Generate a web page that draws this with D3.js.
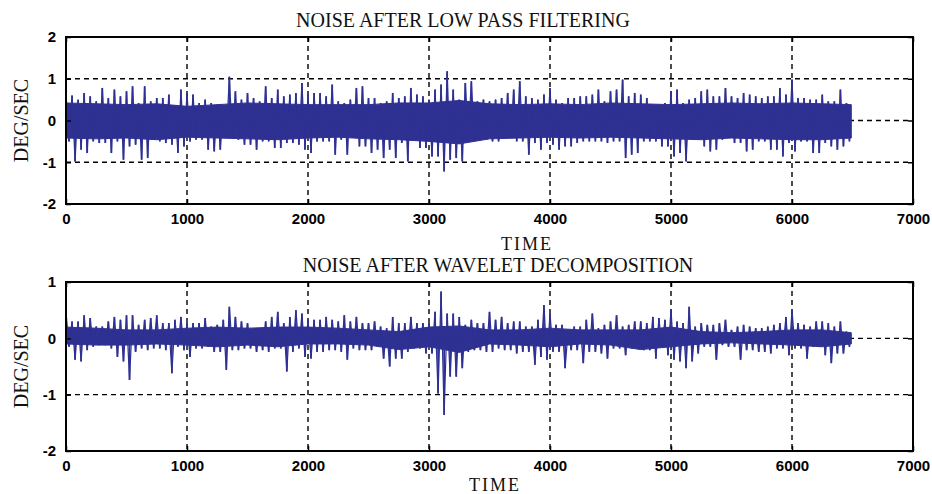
<!DOCTYPE html>
<meta charset="utf-8">
<style>
body { margin: 0; background: #fff; }
.tick-label { font-family: "Liberation Sans", Arial, sans-serif; font-weight: bold; font-size: 15px; fill: #000; }
.title, .xlabel, .ylabel { font-family: "Liberation Serif", "Times New Roman", serif; fill: #111; }
.grid line { stroke: #000; stroke-width: 1.4px; stroke-dasharray: 5,4; }
.frame { fill: none; stroke: #000; stroke-width: 2px; }
.core { fill: #2e3192; stroke: #2e3192; stroke-width: 1px; }
.trace { fill: none; stroke: #2e3192; stroke-width: 1.2px; }
.spikes line { stroke: #2e3192; stroke-width: 1.8px; }
</style>
<svg width="932" height="494"></svg>

<script src="https://cdn.jsdelivr.net/npm/d3@7"></script>
<script>

// peak values of the noise, one pair per 50 time units (high sample, then low sample)
var lowPassHi = [0.66,0.6,0.5,0.66,0.58,0.46,0.78,0.54,0.74,0.58,0.7,0.82,0.42,0.82,0.46,0.54,0.54,0.62,0.34,0.74,
  0.66,0.62,0.42,0.5,0.42,0.38,0.3,1.05,0.7,0.5,0.66,0.54,0.46,0.82,0.54,0.74,0.58,0.62,0.66,0.9,
  0.62,0.66,0.66,0.58,0.86,0.46,0.42,0.5,0.78,0.82,0.54,0.54,0.42,0.46,0.66,0.54,0.58,0.78,0.62,0.58,
  0.5,0.74,0.86,1.18,0.74,0.5,0.9,0.94,0.46,0.5,0.46,0.5,0.54,0.66,0.74,0.94,0.58,0.54,0.5,0.62,
  0.78,0.5,0.42,0.54,0.54,0.58,0.58,0.62,0.74,0.46,0.7,0.74,0.98,0.58,0.66,0.62,0.54,0.38,0.38,0.42,
  0.7,0.74,0.42,0.5,0.54,0.7,0.74,0.58,0.58,0.78,0.58,0.54,0.66,0.62,0.58,0.54,0.58,0.58,0.78,0.62,
  0.98,0.54,0.54,0.5,0.5,0.62,0.46,0.46,0.74,0.42];
var lowPassLo = [-0.5,-0.98,-0.7,-0.78,-0.5,-0.54,-0.54,-0.78,-0.5,-0.94,-0.62,-0.58,-0.94,-0.9,-0.46,-0.5,-0.54,-0.58,-0.78,-0.62,
  -0.5,-0.46,-0.46,-0.7,-0.74,-0.7,-0.38,-0.42,-0.46,-0.58,-0.58,-0.7,-0.5,-0.5,-0.66,-0.66,-0.54,-0.54,-0.58,-0.7,
  -0.78,-0.5,-0.5,-0.5,-0.82,-0.46,-0.82,-0.38,-0.62,-0.62,-0.78,-0.7,-0.9,-0.7,-0.9,-0.54,-0.98,-0.46,-0.66,-0.66,
  -0.86,-0.86,-1.22,-0.94,-0.9,-0.98,-0.38,-0.42,-0.46,-0.46,-0.5,-0.5,-0.42,-0.42,-0.5,-0.5,-0.82,-0.54,-0.7,-0.54,
  -0.58,-0.7,-0.62,-0.62,-0.54,-0.5,-0.5,-0.5,-0.5,-0.54,-0.5,-0.5,-0.9,-0.82,-0.78,-0.5,-0.5,-0.5,-0.62,-0.62,
  -0.86,-0.78,-0.98,-0.46,-0.46,-0.62,-0.74,-0.7,-0.46,-0.38,-0.54,-0.54,-0.74,-0.7,-0.5,-0.5,-0.7,-0.7,-0.86,-0.54,
  -0.74,-0.5,-0.5,-0.78,-0.78,-0.54,-0.62,-0.7,-0.62,-0.5];
// dense core of the band, one pair per 250 time units
var lowPassCoreHi = [0.42,0.4,0.38,0.4,0.34,0.38,0.42,0.4,0.38,0.38,0.38,0.42,0.42,0.48,0.4,0.38,0.4,0.38,0.42,0.4,0.38,0.4,0.42,0.4,0.42,0.4,0.38];
var lowPassCoreLo = [-0.42,-0.44,-0.42,-0.46,-0.4,-0.42,-0.44,-0.46,-0.42,-0.4,-0.44,-0.46,-0.5,-0.56,-0.44,-0.42,-0.4,-0.42,-0.4,-0.42,-0.44,-0.46,-0.42,-0.44,-0.46,-0.46,-0.42];

var waveletHi = [0.47,0.3,0.3,0.41,0.36,0.21,0.21,0.3,0.38,0.33,0.41,0.41,0.24,0.33,0.36,0.41,0.27,0.27,0.33,0.38,
  0.27,0.27,0.27,0.36,0.21,0.24,0.33,0.56,0.38,0.3,0.27,0.15,0.18,0.3,0.38,0.47,0.27,0.38,0.5,0.44,
  0.33,0.33,0.33,0.38,0.33,0.3,0.41,0.3,0.38,0.27,0.27,0.3,0.21,0.18,0.38,0.27,0.27,0.38,0.27,0.27,
  0.27,0.47,0.83,0.44,0.44,0.38,0.24,0.33,0.27,0.27,0.47,0.33,0.38,0.27,0.3,0.3,0.21,0.21,0.33,0.59,
  0.44,0.24,0.24,0.15,0.21,0.21,0.33,0.44,0.18,0.24,0.3,0.41,0.21,0.24,0.3,0.3,0.27,0.38,0.36,0.33,
  0.51,0.3,0.27,0.56,0.21,0.27,0.24,0.24,0.27,0.33,0.15,0.21,0.24,0.21,0.18,0.18,0.21,0.24,0.27,0.38,
  0.5,0.27,0.24,0.21,0.3,0.3,0.27,0.21,0.3,0.12];
var waveletLo = [-0.15,-0.38,-0.41,-0.21,-0.15,-0.12,-0.12,-0.18,-0.33,-0.41,-0.74,-0.24,-0.18,-0.21,-0.18,-0.18,-0.21,-0.62,-0.15,-0.21,
  -0.33,-0.18,-0.18,-0.15,-0.24,-0.24,-0.56,-0.21,-0.21,-0.18,-0.18,-0.24,-0.21,-0.24,-0.18,-0.18,-0.59,-0.24,-0.18,-0.33,
  -0.36,-0.24,-0.24,-0.21,-0.21,-0.24,-0.38,-0.18,-0.21,-0.21,-0.21,-0.15,-0.36,-0.5,-0.36,-0.36,-0.24,-0.18,-0.18,-0.27,
  -0.27,-0.98,-1.36,-0.68,-0.68,-0.53,-0.24,-0.21,-0.21,-0.24,-0.24,-0.18,-0.21,-0.21,-0.27,-0.24,-0.24,-0.47,-0.33,-0.38,
  -0.24,-0.24,-0.53,-0.21,-0.21,-0.44,-0.24,-0.24,-0.27,-0.36,-0.18,-0.18,-0.3,-0.18,-0.18,-0.21,-0.21,-0.36,-0.15,-0.3,
  -0.38,-0.41,-0.53,-0.41,-0.27,-0.15,-0.15,-0.38,-0.12,-0.15,-0.15,-0.38,-0.21,-0.21,-0.24,-0.24,-0.27,-0.18,-0.18,-0.3,
  -0.18,-0.18,-0.36,-0.15,-0.15,-0.3,-0.44,-0.27,-0.27,-0.15];
var waveletCoreHi = [0.2,0.18,0.15,0.15,0.18,0.2,0.18,0.2,0.2,0.18,0.15,0.12,0.2,0.22,0.15,0.15,0.18,0.15,0.15,0.15,0.2,0.12,0.1,0.12,0.15,0.15,0.1];
var waveletCoreLo = [-0.1,-0.12,-0.12,-0.1,-0.12,-0.15,-0.12,-0.15,-0.1,-0.1,-0.12,-0.2,-0.15,-0.25,-0.1,-0.12,-0.15,-0.1,-0.12,-0.2,-0.15,-0.1,-0.08,-0.1,-0.12,-0.15,-0.1];

var binWidth = 50, coreStep = 250;
var xTicks = [0, 1000, 2000, 3000, 4000, 5000, 6000, 7000];
var topYTicks = [-2, -1, 0, 1, 2];
var bottomYTicks = [-2, -1, 0, 1];

var svg = d3.select("svg");

function panel(opt) {
  var x = d3.scaleLinear().domain([0, 7000]).range([66, 913]);
  var y = d3.scaleLinear().domain(opt.yDomain).range([opt.bottom, opt.top]);
  var g = svg.append("g");

  // grid
  var grid = g.append("g").attr("class", "grid");
  grid.selectAll(".gx")
    .data(xTicks.slice(1, -1))
    .enter().append("line")
      .attr("x1", function(d) { return x(d); })
      .attr("x2", function(d) { return x(d); })
      .attr("y1", opt.top)
      .attr("y2", opt.bottom);
  grid.selectAll(".gy")
    .data(opt.yTicks.filter(function(d) { return d > opt.yDomain[0] && d < opt.yDomain[1]; }))
    .enter().append("line")
      .attr("x1", x(0))
      .attr("x2", x(7000))
      .attr("y1", function(d) { return y(d); })
      .attr("y2", function(d) { return y(d); });

  // solid core of the noise band
  var area = d3.area()
      .x(function(d, i) { return x(Math.min(i * coreStep, opt.end)); })
      .y0(function(d, i) { return y(opt.coreLo[i]); })
      .y1(function(d) { return y(d); });
  g.append("path")
      .attr("class", "core")
      .attr("d", area(opt.coreHi));

  // individual peaks, joined as a trace and drawn as spikes
  var peaks = [];
  opt.hi.forEach(function(h, i) {
    peaks.push({t: i * binWidth, v: h});
    peaks.push({t: i * binWidth + binWidth / 2, v: opt.lo[i]});
  });
  var line = d3.line()
      .x(function(d) { return x(d.t); })
      .y(function(d) { return y(d.v); });
  g.append("path")
      .attr("class", "trace")
      .attr("d", line(peaks));
  g.append("g")
      .attr("class", "spikes")
    .selectAll("line")
    .data(peaks)
    .enter().append("line")
      .attr("x1", function(d) { return x(d.t); })
      .attr("x2", function(d) { return x(d.t); })
      .attr("y1", y(0))
      .attr("y2", function(d) { return y(d.v); });

  // axes, MATLAB style ticks pointing inward
  g.append("g")
      .attr("transform", "translate(0," + opt.bottom + ")")
      .call(d3.axisBottom(x).tickValues(xTicks).tickSize(-5).tickPadding(9).tickFormat(String))
      .call(styleAxis);
  g.append("g")
      .attr("transform", "translate(0," + opt.top + ")")
      .call(d3.axisTop(x).tickValues(xTicks).tickSize(-5).tickFormat(""))
      .call(styleAxis);
  g.append("g")
      .attr("transform", "translate(" + x(0) + ",0)")
      .call(d3.axisLeft(y).tickValues(opt.yTicks).tickSize(-5).tickPadding(10).tickFormat(String))
      .call(styleAxis);
  g.append("g")
      .attr("transform", "translate(" + x(7000) + ",0)")
      .call(d3.axisRight(y).tickValues(opt.yTicks).tickSize(-5).tickFormat(""))
      .call(styleAxis);

  g.append("rect")
      .attr("class", "frame")
      .attr("x", x(0))
      .attr("y", opt.top)
      .attr("width", x(7000) - x(0))
      .attr("height", opt.bottom - opt.top);

  g.append("text")
      .attr("class", "title")
      .attr("x", opt.titleX)
      .attr("y", opt.top - 10)
      .attr("text-anchor", "middle")
      .style("font-size", "20px")
      .text(opt.title);

  g.append("text")
      .attr("class", "xlabel")
      .attr("x", opt.xlabelX)
      .attr("y", opt.xlabelY)
      .attr("text-anchor", "middle")
      .style("font-size", "18px")
      .style("letter-spacing", "2px")
      .text("TIME");

  g.append("text")
      .attr("class", "ylabel")
      .attr("transform", "translate(28," + (opt.top + opt.bottom) / 2 + ") rotate(-90)")
      .attr("text-anchor", "middle")
      .style("font-size", "20px")
      .text("DEG/SEC");
}

function styleAxis(sel) {
  sel.select(".domain").remove();
  sel.selectAll(".tick line").attr("stroke", "#000").attr("stroke-width", 1.5);
  sel.selectAll(".tick text").attr("class", "tick-label").attr("fill", "#000").attr("font-size", null).attr("font-family", null);
}

panel({
  top: 37, bottom: 204, yDomain: [-2, 2], yTicks: topYTicks,
  hi: lowPassHi, lo: lowPassLo, coreHi: lowPassCoreHi, coreLo: lowPassCoreLo, end: 6490,
  title: "NOISE AFTER LOW PASS FILTERING", titleX: 463,
  xlabelX: 527, xlabelY: 250
});

panel({
  top: 282, bottom: 451, yDomain: [-2, 1], yTicks: bottomYTicks,
  hi: waveletHi, lo: waveletLo, coreHi: waveletCoreHi, coreLo: waveletCoreLo, end: 6490,
  title: "NOISE AFTER WAVELET DECOMPOSITION", titleX: 498,
  xlabelX: 495, xlabelY: 491
});

</script>
